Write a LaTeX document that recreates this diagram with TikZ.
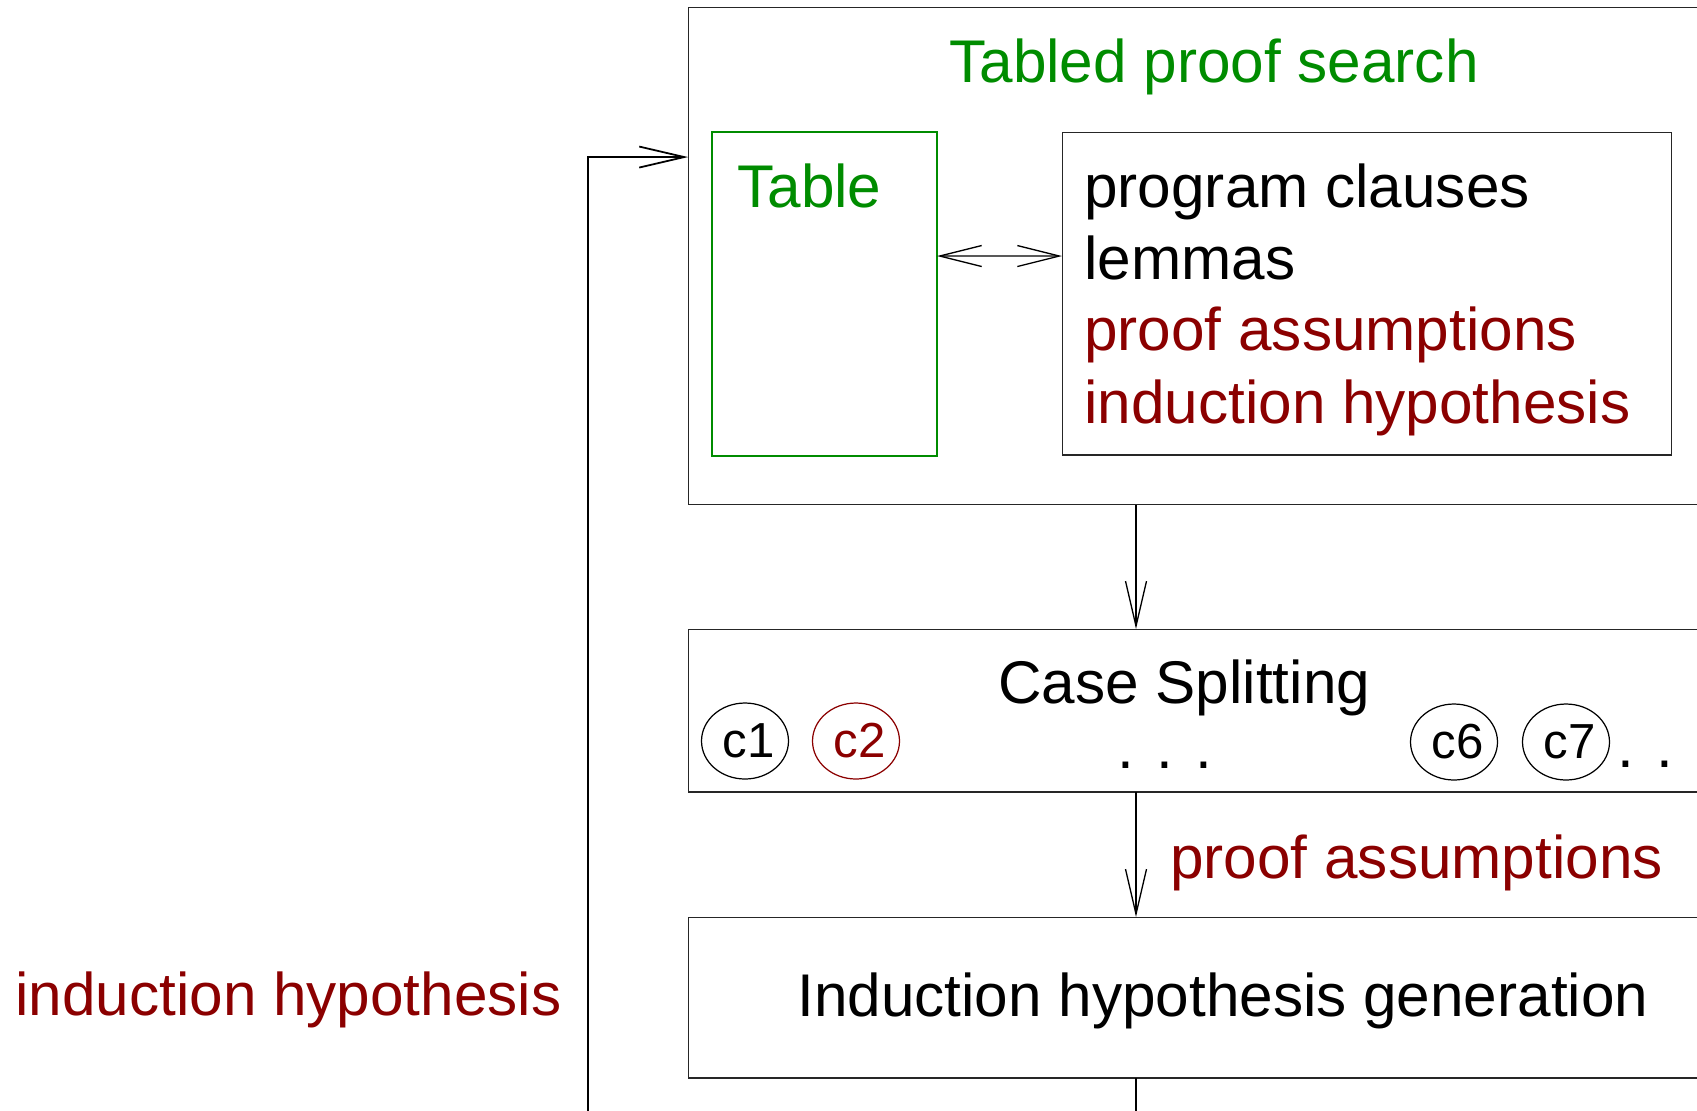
\documentclass[tikz,border=0pt]{standalone}
\usepackage{fontspec}
\setmainfont{Liberation Sans}
\usepackage{xcolor}
\usetikzlibrary{arrows.meta, positioning, shapes.geometric, calc}
\definecolor{tabgreen}{RGB}{0,140,0}
\definecolor{hypred}{RGB}{139,0,0}

\begin{document}
\begin{tikzpicture}[
  x=0.02cm, y=-0.02cm,
  font=\fontsize{34.3}{40.8}\selectfont,
  frame/.style={draw=black!85, line width=0.6pt, inner sep=0pt, outer sep=0pt,
                minimum width=21.44cm},
  txt/.style={anchor=base west, inner sep=0pt},
  casenode/.style={draw=#1, ellipse, line width=0.7pt, text=#1,
                   minimum width=1.74cm, minimum height=1.52cm, inner sep=0pt,
                   font=\fontsize{28}{30}\selectfont},
  arr/.style={-{Straight Barb[length=0.9cm, width=0.42cm]}, line width=0.75pt},
  darr/.style={{Straight Barb[length=0.84cm, width=0.42cm]}-{Straight Barb[length=0.84cm, width=0.42cm]},
               line width=0.75pt},
]
\useasboundingbox (0,0) rectangle (1697,1110);
\clip (0,0) rectangle (1697,1110);

%% Tabled proof search
\node[frame, minimum height=9.96cm] (search) at (1224,256) {};
\node[txt, text=tabgreen] (stitle) at (949,82) {Tabled proof search};
\node[draw=tabgreen, line width=0.7pt, inner sep=0pt, outer sep=0pt,
      minimum width=4.5cm, minimum height=6.48cm] (table) at (824.5,294) {};
\node[txt, text=tabgreen] (ttitle) at (737,207) {Table};
\node[frame, minimum width=12.2cm, minimum height=6.46cm] (store) at (1367,293.5) {};
\node[txt] (prog)  at (1084,207) {program clauses};
\node[txt] (lem)   at (1084,279) {lemmas};
\node[txt, text=hypred] (passm) at (1084,350) {proof assumptions};
\node[txt, text=hypred] (ihyp)  at (1084,423) {induction hypothesis};

%% Case splitting
\node[frame, minimum height=3.26cm] (split) at (1224,710.5) {};
\node[txt] (stxt) at (998,703) {Case Splitting};
\node[casenode=black]  (c1) at (745,741) {\hspace{4pt}c1};
\node[casenode=hypred] (c2) at (856,741) {\hspace{4pt}c2};
\node[casenode=black]  (c6) at (1454,742) {\hspace{4pt}c6};
\node[casenode=black]  (c7) at (1566,742) {\hspace{4pt}c7};
\node[anchor=base, inner sep=0pt] (dotsa) at (1165,768) {. . .};
\node[anchor=base, inner sep=0pt] (dotsb) at (1665,767) {. . .};

%% Induction hypothesis generation
\node[frame, minimum height=3.22cm] (ihgen) at (1224,997.5) {};
\node[txt] (gtxt) at (797,1016) {Induction hypothesis generation};
\node[txt, text=hypred] (palbl) at (1170,878) {proof assumptions};
\node[txt, text=hypred] (ihlbl) at (15,1015) {induction hypothesis};

%% Connectors
\coordinate (spine) at (1136,0);
\coordinate (spineend) at (1136,1130);
\coordinate (loopend) at (588,1130);
\draw[darr] ($(table.north east)+(0,124)$) -- ($(store.north west)+(0,124)$);
\draw[arr] (search.south -| spine) -- (split.north -| spine);
\draw[arr] (split.south -| spine) -- (ihgen.north -| spine);
\draw[line width=0.75pt] (ihgen.south -| spine) -- (spineend);
\draw[arr, line width=1pt] (loopend) |- ($(search.north west)+(0,150)$);

\end{tikzpicture}
\end{document}
